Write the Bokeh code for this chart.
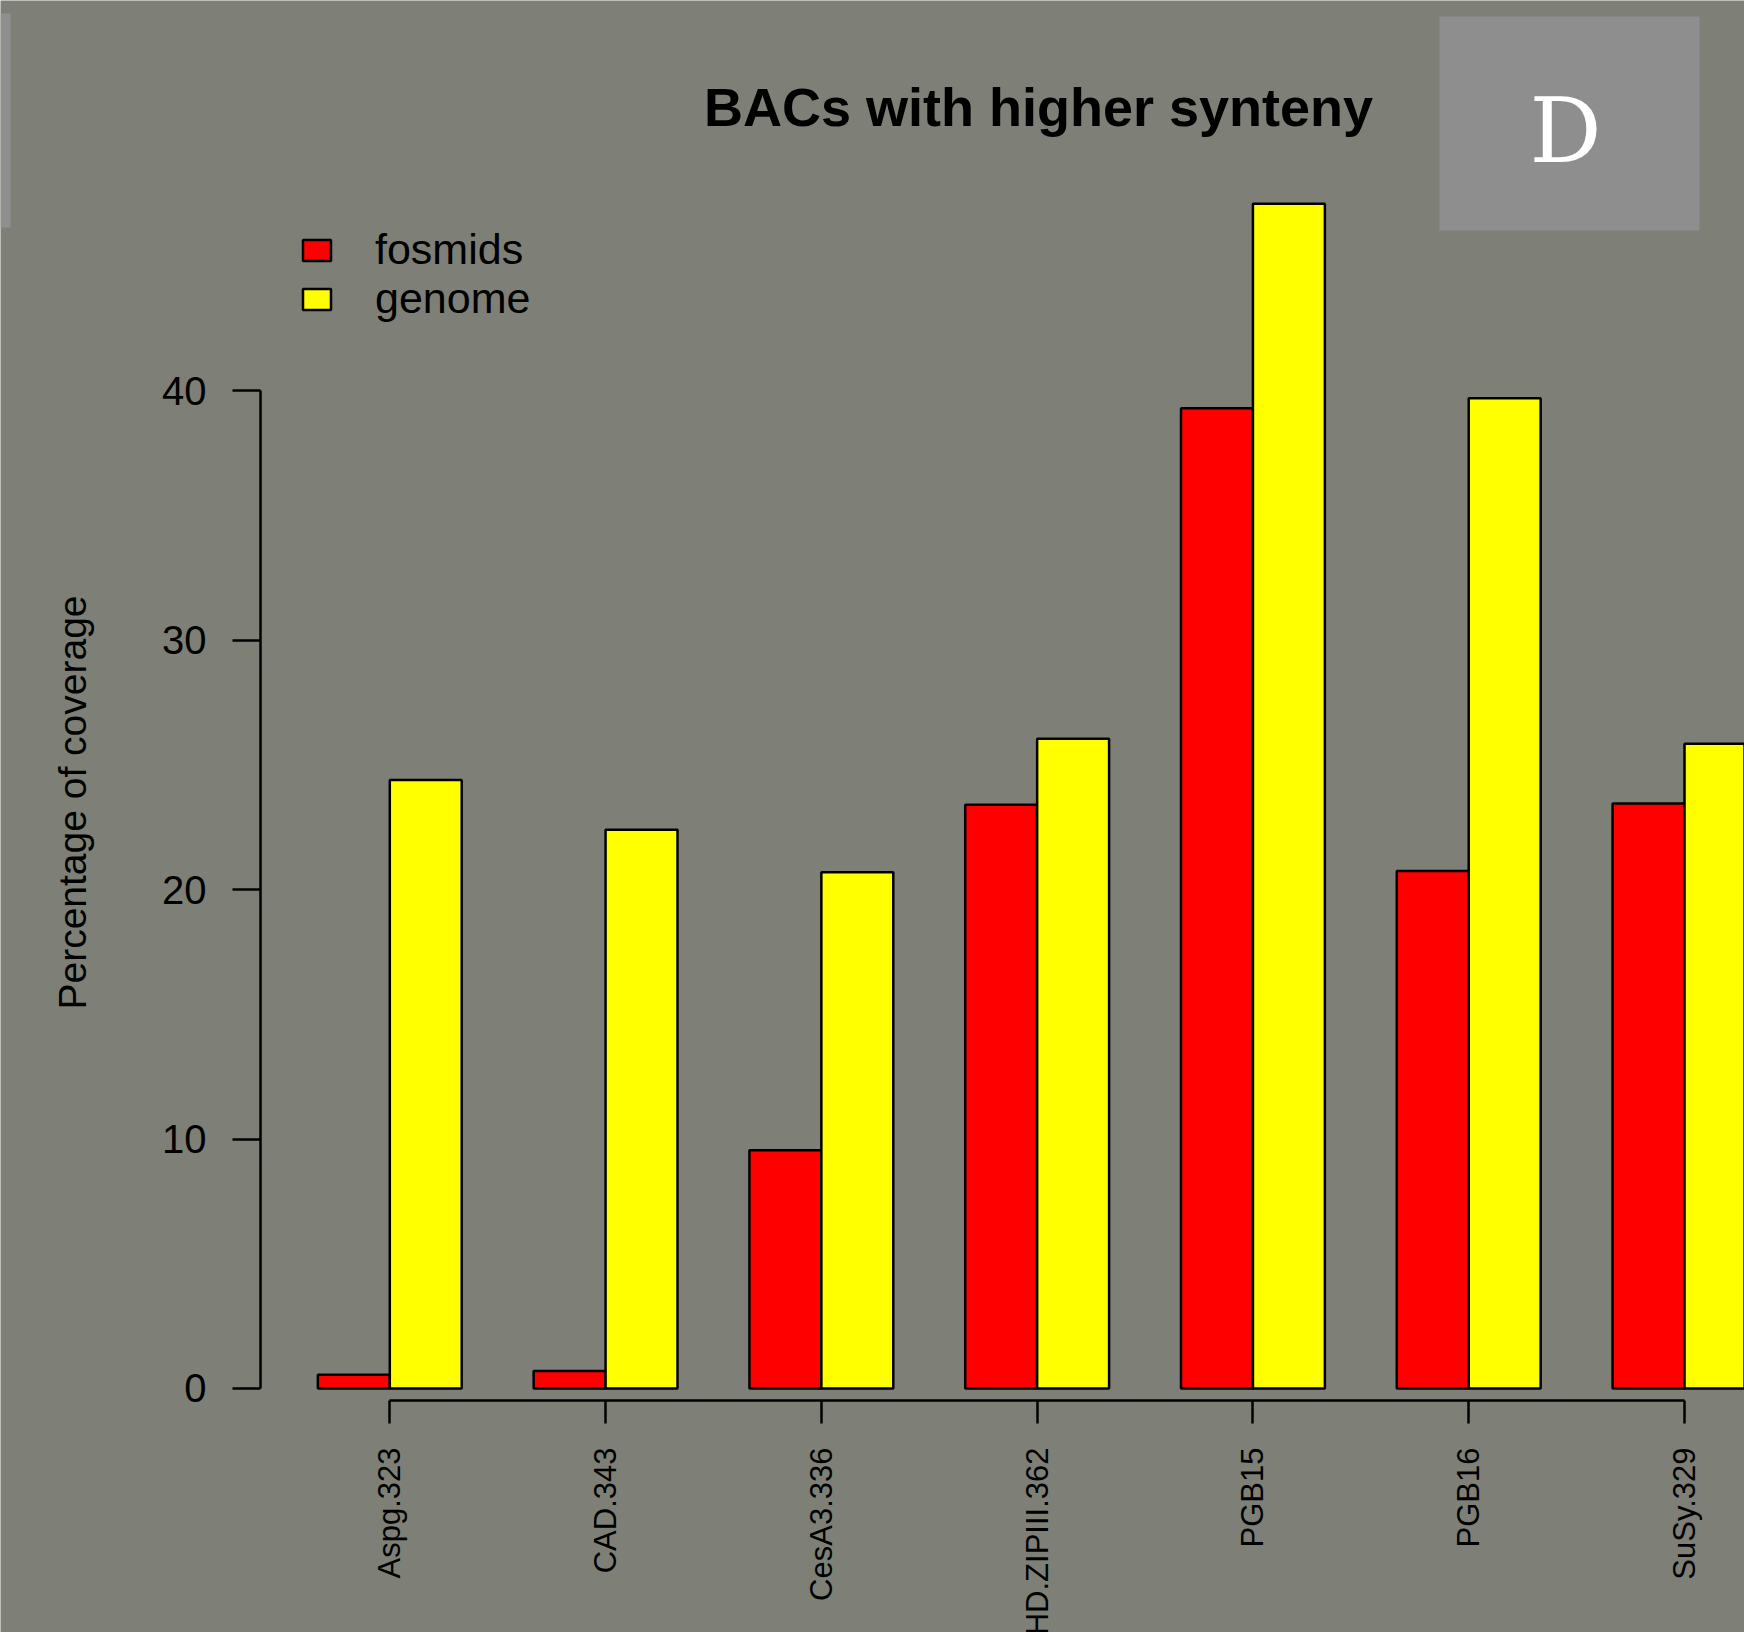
import math
from bokeh.plotting import figure
from bokeh.models import (Range1d, FixedTicker, Label, BoxAnnotation, Legend, LegendItem,
                          LinearAxis)
from bokeh.embed import file_html
from bokeh.resources import INLINE

# Percentage of coverage per BAC
categories = ["Aspg.323", "CAD.343", "CesA3.336", "HD.ZIPIII.362", "PGB15", "PGB16", "SuSy.329"]
fosmids = [0.55, 0.7, 9.55, 23.4, 39.3, 20.75, 23.45]
genome = [24.4, 22.4, 20.7, 26.05, 47.5, 39.7, 25.85]
y_ticks = [0, 10, 20, 30, 40]

BG = "#7e7f77"
FONT = "Liberation Sans"

# barplot-style positions: two unit-wide bars per group, one unit gap between groups
centers = [3 * i + 2 for i in range(len(categories))]
x_fos = [c - 0.5 for c in centers]
x_gen = [c + 0.5 for c in centers]

# the frame fills the whole canvas; axes sit at fixed data locations inside it
p = figure(width=1744, height=1632, output_backend="svg", toolbar_location=None,
           x_range=Range1d(-3.4122, 20.834), y_range=Range1d(-9.783, 55.65),
           min_border=0)
p.background_fill_color = BG
p.border_fill_color = BG
p.outline_line_color = None
p.grid.visible = False

r_fos = p.vbar(x=x_fos, top=fosmids, bottom=0, width=1, fill_color="#ff0000",
               line_color="black", line_width=2.5)
r_gen = p.vbar(x=x_gen, top=genome, bottom=0, width=1, fill_color="#ffff00",
               line_color="black", line_width=2.5)

# y axis: line, ticks and tick labels
ya = p.yaxis[0]
ya.fixed_location = 0.2024
ya.ticker = FixedTicker(ticks=y_ticks)
ya.bounds = (0, 40)
ya.axis_line_width = 2.5
ya.major_tick_line_width = 2.5
ya.major_tick_out = 28
ya.major_tick_in = 0
ya.minor_tick_out = 0
ya.minor_tick_in = 0
ya.major_label_standoff = 26
ya.major_label_text_font = FONT
ya.major_label_text_font_size = "40px"
ya.major_label_text_color = "black"

# y axis title, centred on the full value span of the plot region
yt = LinearAxis(fixed_location=0.2024, ticker=FixedTicker(ticks=[]),
                bounds=(0, 47.0), axis_line_color=None,
                major_tick_out=0, major_tick_in=0, minor_tick_out=0, minor_tick_in=0,
                major_label_standoff=0,
                axis_label="Percentage of coverage", axis_label_text_font=FONT,
                axis_label_text_font_size="39px", axis_label_text_font_style="normal",
                axis_label_text_color="black", axis_label_standoff=167)
p.add_layout(yt, "left")

# x axis
xa = p.xaxis[0]
xa.fixed_location = -0.481
xa.ticker = FixedTicker(ticks=centers)
xa.major_label_overrides = {c: name for c, name in zip(centers, categories)}
xa.bounds = (centers[0], centers[-1])
xa.axis_line_width = 2.5
xa.major_tick_line_width = 2.5
xa.major_tick_out = 23
xa.major_tick_in = 0
xa.minor_tick_out = 0
xa.minor_tick_in = 0
xa.major_label_orientation = math.pi / 2
xa.major_label_standoff = 24
xa.major_label_text_font = FONT
xa.major_label_text_font_size = "31px"
xa.major_label_text_color = "black"

# legend
legend = Legend(items=[LegendItem(label="fosmids", renderers=[r_fos]),
                       LegendItem(label="genome", renderers=[r_gen])],
                location=(299, 1309), orientation="vertical",
                padding=0, margin=0, spacing=0,
                glyph_width=35, glyph_height=26, label_standoff=41, label_height=47,
                label_text_font=FONT, label_text_font_size="43px", label_text_color="black",
                border_line_color=None, background_fill_alpha=0)
p.add_layout(legend)

# title
p.add_layout(Label(x=1038, y=106, x_units="canvas", y_units="canvas",
                   text="BACs with higher synteny", text_align="center",
                   text_baseline="alphabetic", text_font=FONT, text_font_style="bold",
                   text_font_size="54px", text_color="black"))

# panel tag and neighbouring panel edge
p.add_layout(BoxAnnotation(left=1439, right=1699, top=16, bottom=230,
                           left_units="canvas", right_units="canvas",
                           top_units="canvas", bottom_units="canvas",
                           fill_color="#8e8e8e", fill_alpha=1, line_color=None))
p.add_layout(BoxAnnotation(left=0, right=10, top=13, bottom=227,
                           left_units="canvas", right_units="canvas",
                           top_units="canvas", bottom_units="canvas",
                           fill_color="#8f8f8f", fill_alpha=1, line_color=None))
p.add_layout(Label(x=1565, y=130, x_units="canvas", y_units="canvas",
                   text="D", text_align="center", text_baseline="alphabetic",
                   text_font="DejaVu Serif", text_font_size="90px", text_color="white"))

open("out.html", "w").write(file_html(p, INLINE))
